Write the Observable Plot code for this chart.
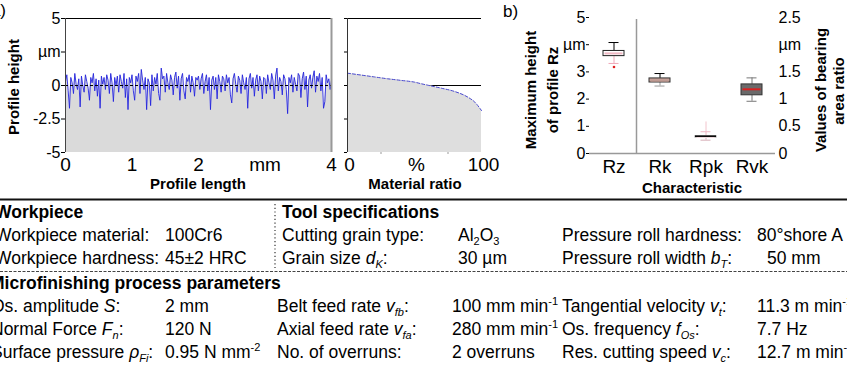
<!DOCTYPE html>
<html><head><meta charset="utf-8">
<script src="https://cdn.jsdelivr.net/npm/d3@7"></script>
<script src="https://cdn.jsdelivr.net/npm/@observablehq/plot@0.6"></script>
<style>
body{margin:0;background:#fff;}
#fig{position:relative;width:847px;height:370px;overflow:hidden;background:#fff;}
#fig svg{position:absolute;top:0;}
</style></head><body><div id="fig"></div><script>
// ---------- DATA ----------
// a) roughness profile (µm), sampled every 0.02 mm over 0..4 mm
const profileStep = 0.02;
const profileHeight = [
 0.3, 0.8, -0.4, -1.7, 0.6, 0.2, -0.6, 0.9, 0.1, -0.3,
 0.5, -1.6, 0.7, 0.0, -0.5, 0.8, 0.3, -0.2, -1.1, 0.6,
 0.2, 0.9, -0.4, 0.5, -0.8, 0.4, -1.7, 0.7, 0.1, 0.6,
 -0.3, 0.8, 0.4, -0.6, 0.9, 0.2, -1.2, 0.6, 0.0, 0.7,
 -0.5, 0.8, 0.3, -0.2, 0.9, -0.9, 0.5, -1.8, 0.6, 0.2,
 0.8, -0.4, -1.1, 0.7, 0.3, 0.9, -0.6, 1.2, 0.4, -0.3,
 0.6, -1.8, 0.5, 0.2, -1.5, 0.8, -0.4, 0.6, 0.1, 0.9,
 -0.6, -1.1, 1.3, 0.5, 0.7, -0.5, 0.9, 0.2, -0.3, 0.8,
 0.4, -0.7, 0.6, 1.0, -0.2, 0.7, -1.1, 0.5, 0.9, -0.4,
 -1.0, 0.6, 0.3, 0.8, -0.5, 0.7, 0.2, -0.8, 0.6, 0.4,
 0.7, -0.3, 0.5, 0.9, -0.6, 0.3, 0.8, -0.4, 0.6, -1.8,
 0.4, 0.7, -0.3, 0.6, -1.0, 0.8, 0.3, -0.5, 0.7, 0.5,
 -0.4, 0.8, 0.2, 0.6, -0.7, -1.3, 0.5, 0.9, 0.1, -0.5,
 0.7, 0.4, -0.6, 0.8, 0.2, -0.3, 0.6, -1.7, 0.5, 0.9,
 -0.2, 0.6, -0.8, 0.4, 0.8, -0.4, 0.7, 0.3, -1.0, 0.6,
 0.5, -0.6, 0.8, 0.2, -0.3, 0.9, 0.4, -1.0, 0.7, 1.3,
 -0.4, 0.6, 0.3, -0.7, 0.8, 0.5, -0.3, -2.1, 0.6, 0.2,
 0.8, -0.5, 0.6, 0.1, -0.4, 0.9, 0.7, -0.9, 0.5, 1.0,
 -0.3, 0.7, -1.6, 0.4, 0.8, -0.2, 0.6, 1.1, -0.5, 0.7,
 0.3, 0.9, -0.4, 0.6, -1.7, -1.2, 0.8, 0.2, 0.5, -0.3,
 0.4
];
const profileXTicks = [0, 1, 2, 3, 4];
const profileXTickLabels = ["0", "1", "2", "mm", "4"];
const profileYTicks = [5, 2.5, 0, -2.5, -5];
const profileYTickLabels = ["5", "µm", "0", "-2.5", "-5"];

// a) material ratio (Abbott) curve
const materialRatioPct = [0, 10, 20, 30, 40, 50, 55, 60, 70, 80, 90, 95, 100];
const materialRatioHeight = [0.92, 0.78, 0.64, 0.5, 0.38, 0.25, 0.13, 0.02, -0.2, -0.45, -0.88, -1.24, -1.87];
const materialXTicks = [0, 50, 100];
const materialXTickLabels = ["0", "%", "100"];
const materialMinorTicks = [25, 75];

// b) box plots
const characteristics = ["Rz", "Rk", "Rpk", "Rvk"];
const axisSide = ["left", "right", "right", "right"];
const whiskerLow = [3.31, 1.24, 0.245, 0.96];
const quartile1 = [3.58, 1.305, 0.294, 1.07];
const medianVal = [3.68, 1.34, 0.305, 1.18];
const quartile3 = [3.77, 1.38, 0.318, 1.27];
const whiskerHigh = [4.08, 1.47, 0.40, 1.39];
const outlierChar = ["Rz", "Rpk"];
const outlierLow = [3.18, 0.40];
const outlierHigh = [3.18, 0.58];
const leftTicks = [5, 4, 3, 2, 1, 0];
const leftTickLabels = ["5", "µm", "3", "2", "1", "0"];
const rightTicks = [2.5, 2, 1.5, 1, 0.5, 0];
const rightTickLabels = ["2.5", "µm", "1.5", "1", "0.5", "0"];

// table
const tableHeaders = ["Workpiece", "Tool  specifications", "Microfinishing process parameters"];
const workpieceLabels = ["Workpiece material:", "Workpiece hardness:"];
const workpieceValues = ["100Cr6", "45±2 HRC"];
const toolLabels = ["Cutting grain type:", "Grain size *d*_[K]:"];
const toolValues = ["Al_{2}O_{3}", "30 µm"];
const rollLabels = ["Pressure roll hardness:", "Pressure roll width *b*_[T]:"];
const rollValues = ["80°shore A", "50 mm"];
const processLabels1 = ["Os. amplitude *S*:", "Normal Force *F*_[n]:", "Surface pressure *ρ*_[Fi]:"];
const processValues1 = ["2 mm", "120 N", "0.95 N mm^{-2}"];
const processLabels2 = ["Belt feed rate *v*_[fb]:", "Axial feed rate *v*_[fa]:", "No. of overruns:"];
const processValues2 = ["100 mm min^{-1}", "280 mm min^{-1}", "2 overruns"];
const processLabels3 = ["Tangential velocity *v*_[t]:", "Os. frequency *f*_[Os]:", "Res. cutting speed *v*_[c]:"];
const processValues3 = ["11.3 m min^{-1}", "7.7 Hz", "12.7 m min^{-1}"];

// ---------- DRAWING ----------
const FONT = "'Liberation Sans', Arial, Helvetica, sans-serif";
const baseStyle = {background: "transparent", overflow: "visible", fontFamily: FONT, color: "black"};
const fig = document.getElementById("fig");
function place(svg, left) { svg.style.left = left + "px"; svg.style.position = "absolute"; svg.style.top = "0px"; fig.appendChild(svg); return svg; }
const lab = (ticks, labels) => d => labels[ticks.indexOf(d)] ?? "";

const profile = profileHeight.map((h, i) => ({x: i * profileStep, h}));
const profilePlot = Plot.plot({
  width: 340, height: 200, marginLeft: 65, marginRight: 9, marginTop: 18, marginBottom: 48,
  style: baseStyle,
  x: {domain: [0, 4]}, y: {domain: [-5, 5]},
  marks: [
    Plot.areaY(profile, {x: "x", y1: -5, y2: "h", fill: "#dadada"}),
    Plot.lineY(profile, {x: "x", y: "h", stroke: "#2424dc", strokeWidth: 0.9}),
    Plot.ruleY([0], {stroke: "#000", strokeDasharray: "3,2"}),
    Plot.ruleY([5], {stroke: "#000"}),
    Plot.ruleX([0], {stroke: "#444"}),
    Plot.ruleX([4], {stroke: "#999", strokeWidth: 2}),
    Plot.axisY({ticks: profileYTicks, tickFormat: lab(profileYTicks, profileYTickLabels), tickSize: 4, tickPadding: 1, fontSize: 16, label: null}),
    Plot.axisX({ticks: profileXTicks, tickFormat: lab(profileXTicks, profileXTickLabels), tickSize: 0, tickPadding: 5, fontSize: 19, label: null})
  ]
});
place(profilePlot, 0);

const material = materialRatioPct.map((p, i) => ({p, h: materialRatioHeight[i]}));
const materialPlot = Plot.plot({
  width: 170, height: 200, marginLeft: 17, marginRight: 19, marginTop: 18, marginBottom: 48,
  style: baseStyle,
  x: {domain: [0, 100]}, y: {domain: [-5, 5]},
  marks: [
    Plot.ruleY([0], {stroke: "#000"}),
    Plot.areaY(material, {x: "p", y1: -5, y2: "h", fill: "#dedede", curve: "monotone-x"}),
    Plot.lineY(material, {x: "p", y: "h", stroke: "#4a4ad0", strokeWidth: 1, strokeDasharray: "3,2", curve: "monotone-x"}),
    Plot.ruleY([5], {stroke: "#000"}),
    Plot.ruleX([0], {stroke: "#333"}),
    Plot.axisY({ticks: profileYTicks, tickFormat: () => "", tickSize: 3, label: null}),
    Plot.axisX({ticks: materialMinorTicks, tickFormat: () => "", tickSize: 2, stroke: "#999", label: null}),
    Plot.axisX({ticks: materialXTicks, tickFormat: lab(materialXTicks, materialXTickLabels), tickSize: 0, tickPadding: 5, fontSize: 19, dx: 2, label: null})
  ]
});
place(materialPlot, 330);

// box plot records
const boxes = characteristics.map((c, i) => ({c, side: axisSide[i], lo: whiskerLow[i], q1: quartile1[i], med: medianVal[i], q3: quartile3[i], hi: whiskerHigh[i]}));
const outliers = outlierChar.map((c, i) => ({c, lo: outlierLow[i], hi: outlierHigh[i]}));
const boxFill = {Rz: "#ffffff", Rk: "#c8a59c", Rpk: "#ffffff", Rvk: "#6a6a6a"};
const boxStroke = {Rz: "#222", Rk: "#333", Rpk: "#999", Rvk: "#333"};
const medColor = {Rz: "#f0b8c4", Rk: "#bf9a92", Rpk: "#f4dde2", Rvk: "#d82020"};
const hiColor = {Rz: "#000", Rk: "#000", Rpk: "#f0b8c4", Rvk: "#777"};
const loColor = {Rz: "#f0a8b8", Rk: "#999", Rpk: "#d8b0b8", Rvk: "#777"};
const outColor = {Rz: "#e02020", Rpk: "#f2c4cc"};
const xBand = {type: "band", domain: characteristics, paddingInner: 0.55, paddingOuter: 0.275, axis: null};

function boxMarks(sub, outs) {
  return [
    Plot.ruleX(outs.filter(d => d.hi > d.lo), {x: "c", y1: "lo", y2: "hi", stroke: d => outColor[d.c], strokeWidth: 1}),
    Plot.dot(outs.filter(d => d.hi === d.lo), {x: "c", y: "lo", r: 1.3, fill: d => outColor[d.c], stroke: null}),
    Plot.ruleX(sub, {x: "c", y1: "q3", y2: "hi", stroke: d => hiColor[d.c]}),
    Plot.ruleX(sub, {x: "c", y1: "lo", y2: "q1", stroke: d => loColor[d.c]}),
    Plot.barY(sub, {x: "c", y1: "q1", y2: "q3", fill: d => boxFill[d.c], stroke: d => boxStroke[d.c], strokeWidth: 1}),
    Plot.tickY(sub, {x: "c", y: "med", stroke: d => medColor[d.c], strokeWidth: 2, insetLeft: 1.5, insetRight: 1.5}),
    Plot.tickY(sub.filter(d => d.c === "Rpk"), {x: "c", y: "q3", stroke: "#000", strokeWidth: 1.5}),
    Plot.tickY(sub, {x: "c", y: "hi", stroke: d => hiColor[d.c], insetLeft: 5.5, insetRight: 5.5}),
    Plot.tickY(sub, {x: "c", y: "lo", stroke: d => loColor[d.c], insetLeft: 5.5, insetRight: 5.5})
  ];
}

const bLeft = Plot.plot({
  width: 347, height: 200, marginLeft: 89, marginRight: 72, marginTop: 17, marginBottom: 47,
  style: baseStyle,
  x: {...xBand}, y: {domain: [0, 5]},
  marks: [
    Plot.ruleY([0], {stroke: "#999", strokeWidth: 1.5}),
    ...boxMarks(boxes.filter(d => d.side === "left"), outliers.filter(d => d.c === "Rz")),
    Plot.axisY({anchor: "left", ticks: leftTicks, tickFormat: lab(leftTicks, leftTickLabels), tickSize: 3, tickPadding: 1, fontSize: 16, label: null}),
    Plot.axisX({tickSize: 0, tickPadding: 6, fontSize: 19, label: null})
  ]
});
place(bLeft, 500);

const bRight = Plot.plot({
  width: 347, height: 200, marginLeft: 89, marginRight: 72, marginTop: 17, marginBottom: 47,
  style: {...baseStyle, pointerEvents: "none"},
  x: {...xBand}, y: {domain: [0, 2.5]},
  marks: [
    Plot.ruleX([0], {frameAnchor: "right", stroke: "#999", strokeWidth: 2}),
    ...boxMarks(boxes.filter(d => d.side === "right"), outliers.filter(d => d.c !== "Rz")),
    Plot.axisY({anchor: "right", ticks: rightTicks, tickFormat: lab(rightTicks, rightTickLabels), tickSize: 0, tickPadding: 3, fontSize: 16, label: null})
  ]
});
place(bRight, 500);

// divider between Rz (left axis) and bearing ratio characteristics (right axis)
(function () {
  const xs = bLeft.scale("x");
  let xd = 135.5;
  try { const v = (xs.apply("Rz") + xs.bandwidth + xs.apply("Rk")) / 2; if (isFinite(v)) xd = v; } catch (e) {}
  d3.select(bLeft).append("line").attr("x1", xd).attr("x2", xd).attr("y1", 19).attr("y2", 153)
    .attr("stroke", "#999").attr("stroke-width", 1.5);
})();

// ---------- ANNOTATIONS + TABLE ----------
const ann = d3.create("svg").attr("width", 847).attr("height", 370)
  .style("position", "absolute").style("left", "0px").style("top", "0px")
  .style("pointer-events", "none").style("font-family", FONT);
fig.appendChild(ann.node());

function title(x, y, txt, rotate, size = 15, weight = "bold") {
  ann.append("text").attr("transform", `translate(${x},${y})` + (rotate ? " rotate(-90)" : ""))
    .attr("text-anchor", "middle").attr("dominant-baseline", "central")
    .attr("font-size", size).attr("font-weight", weight).text(txt);
}
title(198, 183, "Profile length");
title(415, 183, "Material ratio");
title(692, 187, "Characteristic");
title(13, 87, "Profile height", true);
title(530, 90, "Maximum height", true);
title(552, 90, "of profile Rz", true);
title(820, 90, "Values of  bearing", true);
title(838, 91, "area ratio", true);
ann.append("text").attr("x", 6).attr("y", 16).attr("text-anchor", "end").attr("font-size", 17).text("a)");
ann.append("text").attr("x", 503).attr("y", 17).attr("font-size", 17).text("b)");

// rich text: *italic*, _[italic sub], _{sub}, ^{sup}
const TFS = 17.5;
function rich(x, y, str, opts = {}) {
  const t = ann.append("text").attr("x", x).attr("y", y).attr("font-size", TFS)
    .attr("font-weight", opts.bold ? "bold" : "normal").attr("fill", "#000");
  const parts = str.split(/(\*[^*]+\*|_\[[^\]]+\]|_\{[^}]+\}|\^\{[^}]+\})/).filter(s => s.length);
  let shift = 0;
  for (const p of parts) {
    let txt = p, italic = false, target = 0, small = false;
    if (p.startsWith("*")) { txt = p.slice(1, -1); italic = true; }
    else if (p.startsWith("_[")) { txt = p.slice(2, -1); italic = true; target = 4; small = true; }
    else if (p.startsWith("_{")) { txt = p.slice(2, -1); target = 4; small = true; }
    else if (p.startsWith("^{")) { txt = p.slice(2, -1); target = -7; small = true; }
    const ts = t.append("tspan").attr("dy", target - shift).text(txt);
    if (italic) ts.attr("font-style", "italic");
    if (small) ts.attr("font-size", 11);
    shift = target;
  }
  return t;
}

ann.append("line").attr("x1", 0).attr("x2", 847).attr("y1", 199.5).attr("y2", 199.5).attr("stroke", "#111").attr("stroke-width", 2);
ann.append("line").attr("x1", 275).attr("x2", 275).attr("y1", 204).attr("y2", 268).attr("stroke", "#333").attr("stroke-width", 1.2).attr("stroke-dasharray", "1.2,2.5");
ann.append("line").attr("x1", 0).attr("x2", 847).attr("y1", 271.5).attr("y2", 271.5).attr("stroke", "#444").attr("stroke-width", 1).attr("stroke-dasharray", "3,1.5");

const rowsTop = [241, 264];
const rowsBottom = [312, 335, 358];
rich(-5, 218, tableHeaders[0], {bold: true});
rich(282, 218, tableHeaders[1], {bold: true});
rich(-10, 289, tableHeaders[2], {bold: true});
rowsTop.forEach((y, i) => {
  rich(-5, y, workpieceLabels[i]);
  rich(165, y, workpieceValues[i]);
  rich(282, y, toolLabels[i]);
  rich(458, y, toolValues[i]);
  rich(562, y, rollLabels[i]);
  rich(i === 0 ? 757 : 767, y, rollValues[i]);
});
rowsBottom.forEach((y, i) => {
  rich(-9, y, processLabels1[i]);
  rich(165, y, processValues1[i]);
  rich(277, y, processLabels2[i]);
  rich(452, y, processValues2[i]);
  rich(562, y, processLabels3[i]);
  rich(757, y, processValues3[i]);
});
</script></body></html>
